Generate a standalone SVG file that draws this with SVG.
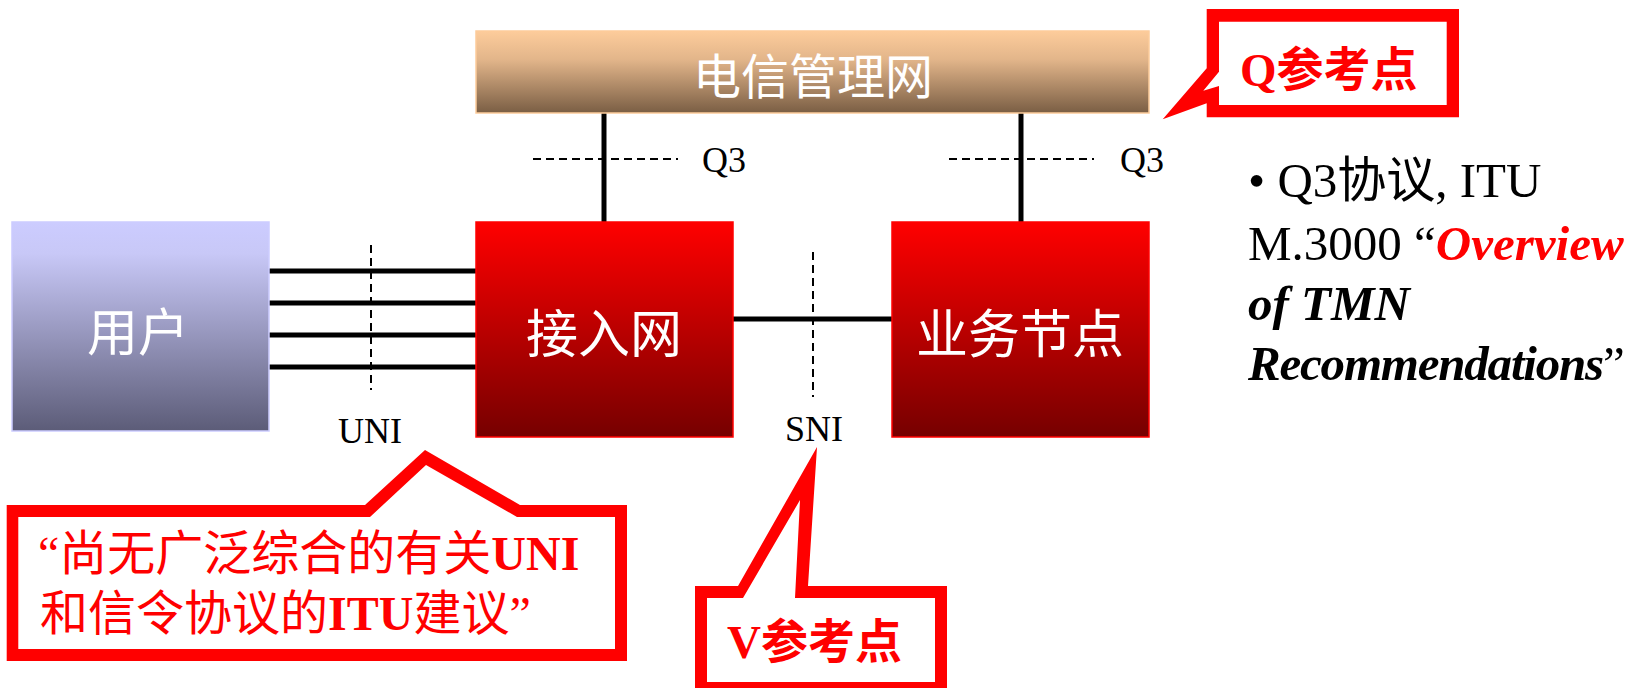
<svg xmlns="http://www.w3.org/2000/svg" width="1638" height="688" viewBox="0 0 1638 688">
<defs>
<linearGradient id="gTmn" x1="0" y1="0" x2="0" y2="1">
<stop offset="0" stop-color="#FDCC9B"/><stop offset="0.35" stop-color="#E2B58A"/><stop offset="1" stop-color="#7A5E44"/>
</linearGradient>
<linearGradient id="gUser" x1="0" y1="0" x2="0" y2="1">
<stop offset="0" stop-color="#CCCCFF"/><stop offset="0.15" stop-color="#C8C8F7"/><stop offset="1" stop-color="#5C5C78"/>
</linearGradient>
<linearGradient id="gRed" x1="0" y1="0" x2="0" y2="1">
<stop offset="0" stop-color="#FF0000"/><stop offset="1" stop-color="#760000"/>
</linearGradient>
<style>
.cjk{font-family:"Noto Sans CJK SC",sans-serif;fill:#FFFFFF;text-anchor:middle}
.lbl{font-family:"Liberation Serif","Noto Sans CJK SC",serif;font-size:36px;fill:#000000}
.line{stroke:#000000;stroke-width:5;fill:none}
.dash{stroke:#000000;stroke-width:2;stroke-dasharray:8 5;fill:none}
.callout{fill:#FF0000}
.inner{fill:#FFFFFF}
.ctext{font-family:"Liberation Serif","Noto Sans CJK SC",serif;fill:#FF0000}
.note{font-family:"Liberation Serif","Noto Sans CJK SC",serif;font-size:49px;fill:#000000}
.bi{font-weight:bold;font-style:italic}
</style>
</defs>
<rect width="1638" height="688" fill="#FFFFFF"/>

<g id="connectors">
<line class="line" x1="604" y1="113" x2="604" y2="223"/>
<line class="line" x1="1021" y1="113" x2="1021" y2="223"/>
<line class="line" x1="269" y1="271" x2="476" y2="271"/>
<line class="line" x1="269" y1="303" x2="476" y2="303"/>
<line class="line" x1="269" y1="335" x2="476" y2="335"/>
<line class="line" x1="269" y1="367" x2="476" y2="367"/>
<line class="line" x1="733" y1="319" x2="892" y2="319"/>
<line class="dash" x1="533" y1="159" x2="678" y2="159"/>
<line class="dash" x1="949" y1="159" x2="1094" y2="159"/>
<line class="dash" x1="371" y1="245" x2="371" y2="390"/>
<line class="dash" x1="813" y1="252" x2="813" y2="397"/>
</g>

<g id="tmn">
<rect x="476" y="31" width="673" height="82" fill="url(#gTmn)" stroke="#FDCC9B" stroke-width="1.5"/>
<text class="cjk" x="813" y="94" font-size="48">电信管理网</text>
</g>

<g id="user">
<rect x="12" y="222" width="257" height="209" fill="url(#gUser)" stroke="#CCCCFF" stroke-width="1.5"/>
<text class="cjk" x="138" y="351" font-size="51">用户</text>
</g>

<g id="access">
<rect x="476" y="222" width="257" height="215" fill="url(#gRed)" stroke="#FF0000" stroke-width="1.5"/>
<text class="cjk" x="604" y="353" font-size="52">接入网</text>
</g>

<g id="service">
<rect x="892" y="222" width="257" height="215" fill="url(#gRed)" stroke="#FF0000" stroke-width="1.5"/>
<text class="cjk" x="1020" y="353" font-size="52">业务节点</text>
</g>

<g id="labels">
<text class="lbl" x="702" y="172">Q3</text>
<text class="lbl" x="1120" y="172">Q3</text>
<text class="lbl" x="338" y="443">UNI</text>
<text class="lbl" x="785" y="441">SNI</text>
</g>

<g id="q-callout">
<polygon class="callout" points="1206.7,9 1459,9 1459,117.3 1206.7,117.3 1206.7,103.3 1162.7,119.3 1206.7,68.3"/>
<polygon class="inner" points="1219,21.7 1446.7,21.7 1446.7,105 1219,105 1219,86 1203.3,90.7 1219,71.7"/>
<text class="ctext" x="1240" y="86" font-size="47" font-weight="bold">Q参考点</text>
</g>

<g id="v-callout">
<polygon class="callout" points="695,586 738,586 817,447 808,586 947,586 947,700 695,700"/>
<polygon class="inner" points="707,598 743,598 800,500 795,598 935,598 935,682 707,682"/>
<text class="ctext" x="727" y="658" font-size="47" font-weight="bold">V参考点</text>
</g>

<g id="uni-callout">
<polygon class="callout" points="6.7,505 365,505 425,450 520,505 627,505 627,661 6.7,661"/>
<polygon class="inner" points="18.3,517 370,517 426,465 517,517 615,517 615,649 18.3,649"/>
<text class="ctext" x="38" y="570" font-size="48">“尚无广泛综合的有关<tspan font-weight="bold">UNI</tspan></text>
<text class="ctext" x="40" y="630" font-size="48">和信令协议的<tspan font-weight="bold">ITU</tspan>建议”</text>
</g>

<g id="note">
<text class="note" x="1248" y="197">• Q3协议, ITU</text>
<text class="note" x="1248" y="260">M.3000 “<tspan class="bi" fill="#FF0000">Overview</tspan></text>
<text class="note" x="1248" y="320"><tspan class="bi">of TMN</tspan></text>
<text class="note" x="1248" y="380" letter-spacing="-1.2"><tspan class="bi">Recommendations</tspan>”</text>
</g>
</svg>
